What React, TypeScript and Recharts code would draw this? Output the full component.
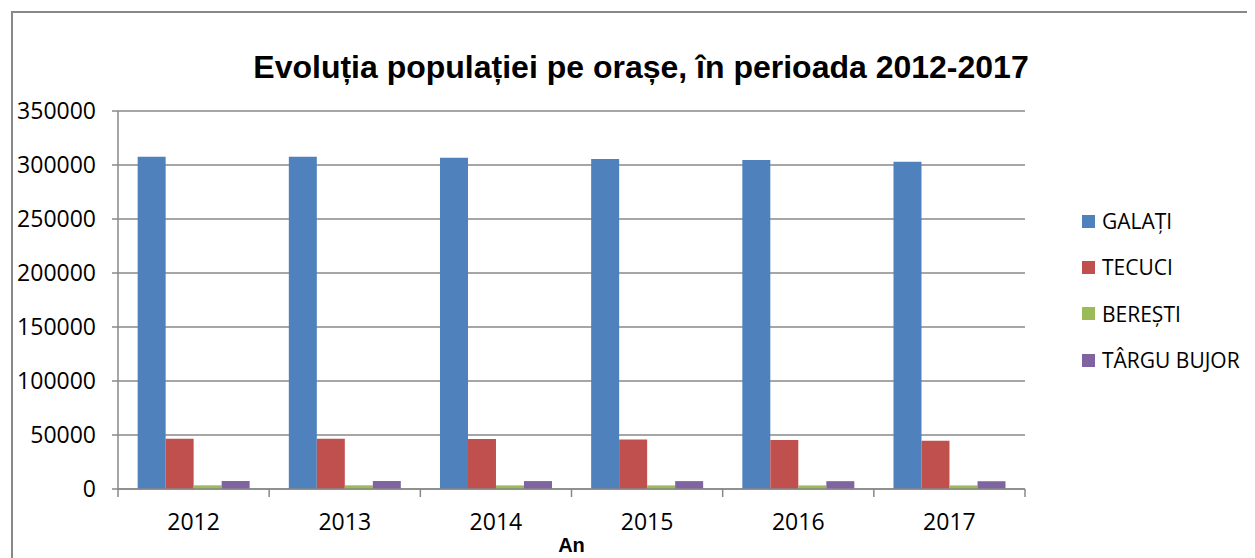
import { BarChart, Bar, XAxis, YAxis, CartesianGrid, Legend } from 'recharts';

const years = ['2012', '2013', '2014', '2015', '2016', '2017'];
const galati = [307700, 307600, 306800, 305600, 304600, 303100];
const tecuci = [46600, 46500, 46300, 45900, 45300, 44700];
const beresti = [3400, 3400, 3350, 3350, 3300, 3300];
const targuBujor = [7400, 7400, 7350, 7300, 7250, 7200];
const yTicks = [0, 50000, 100000, 150000, 200000, 250000, 300000, 350000];

const series = [
  { key: 'GALAȚI', values: galati, color: '#4F81BD' },
  { key: 'TECUCI', values: tecuci, color: '#C0504D' },
  { key: 'BEREȘTI', values: beresti, color: '#9BBB59' },
  { key: 'TÂRGU BUJOR', values: targuBujor, color: '#8064A2' },
];

const data = years.map((an, i) => {
  const row: { [k: string]: string | number } = { an };
  series.forEach(s => { row[s.key] = s.values[i]; });
  return row;
});

const X_TICK_MARGIN = 25;

// an tick label, plus excel-style tick marks on the category boundaries
function YearTick(props: any) {
  const { x, y, payload, index } = props;
  const half = payload.offset || 0;
  const axisY = y - X_TICK_MARGIN;
  const last = index === years.length - 1;
  return (
    <g>
      <line x1={x - half} x2={x - half} y1={axisY} y2={axisY + 8} stroke="#888" strokeWidth={1.5} />
      {last && <line x1={x + half} x2={x + half} y1={axisY} y2={axisY + 8} stroke="#888" strokeWidth={1.5} />}
      <text x={x} y={y} dy="0.71em" textAnchor="middle" fontFamily="Open Sans" fontSize={23} fill="#000">
        {payload.value}
      </text>
    </g>
  );
}

function LegendBox() {
  return (
    <div style={{ fontFamily: 'Open Sans', fontSize: 21, color: '#000' }}>
      {series.map(s => (
        <div key={s.key} style={{ display: 'flex', alignItems: 'center', height: 46.3 }}>
          <span style={{ width: 13, height: 13, background: s.color, marginRight: 7, display: 'inline-block' }} />
          <span>{s.key}</span>
        </div>
      ))}
    </div>
  );
}

export default function App() {
  return (
    <div style={{ position: 'relative', width: 1247, height: 550 }}>
      <div style={{ position: 'absolute', left: 3, top: 3, width: 1260, height: 560, borderLeft: '2px solid #888', borderTop: '2px solid #888' }} />
      <div style={{ position: 'absolute', left: 0, width: 1266, top: 41, textAlign: 'center', fontFamily: 'Liberation Sans', fontWeight: 'bold', fontSize: 32, color: '#000' }}>
        Evoluția populației pe orașe, în perioada 2012-2017
      </div>
      <BarChart
        width={1247}
        height={550}
        data={data}
        margin={{ top: 103, right: 230, bottom: 0, left: 0 }}
        barCategoryGap="13%"
        barGap={0}
      >
        <CartesianGrid vertical={false} stroke="#888" strokeWidth={1.5} />
        <XAxis
          dataKey="an"
          height={69}
          tick={<YearTick />}
          interval={0}
          tickLine={false}
          tickSize={0}
          tickMargin={X_TICK_MARGIN}
          axisLine={{ stroke: '#888', strokeWidth: 1.5 }}
          label={{ value: 'An', position: 'insideBottom', offset: 6, style: { fontFamily: 'Liberation Sans', fontWeight: 'bold', fontSize: 20, fill: '#000' } }}
        />
        <YAxis
          width={110}
          domain={[0, 350000]}
          ticks={yTicks}
          interval={0}
          tick={{ fontFamily: 'Open Sans', fontSize: 23, fill: '#000' }}
          tickSize={6}
          tickMargin={16}
          tickLine={{ stroke: '#888', strokeWidth: 1.5 }}
          axisLine={{ stroke: '#888', strokeWidth: 1.5 }}
        />
        <Legend
          layout="vertical"
          align="center"
          verticalAlign="middle"
          content={<LegendBox />}
          wrapperStyle={{ left: 1074, top: 190, width: 180 }}
        />
        {series.map(s => (
          <Bar key={s.key} dataKey={s.key} fill={s.color} isAnimationActive={false} />
        ))}
      </BarChart>
    </div>
  );
}
